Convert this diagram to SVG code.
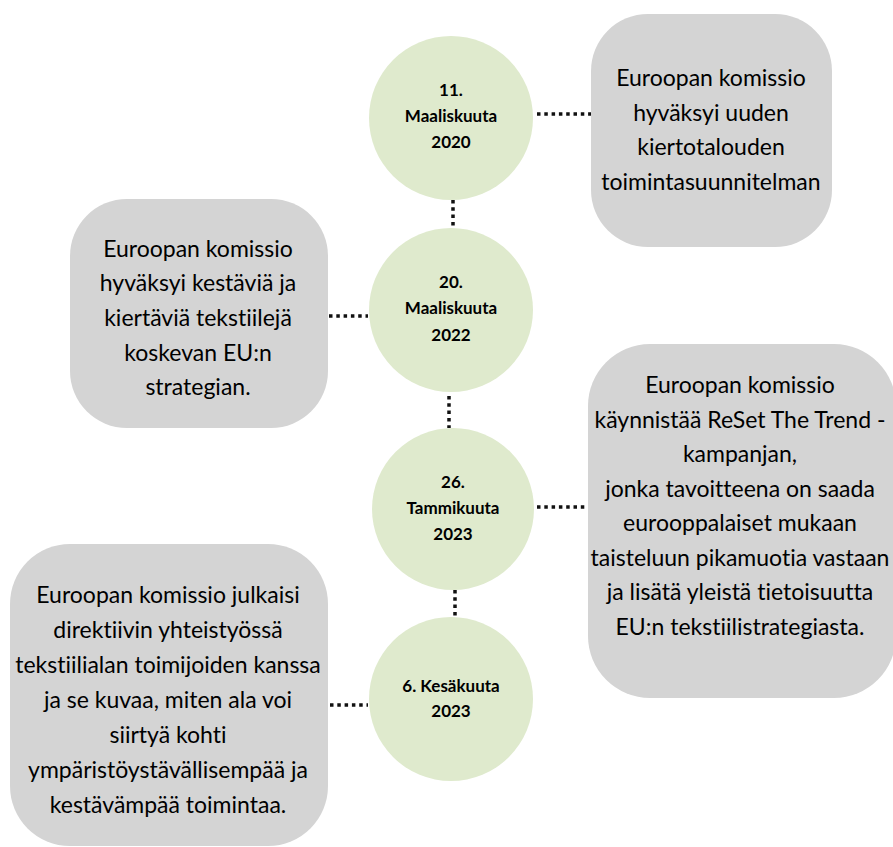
<svg xmlns="http://www.w3.org/2000/svg" width="893" height="847" viewBox="0 0 893 847">
<style>
.box{fill:#d4d4d4;}
.circ{fill:#dfeacd;}
.bt{font-family:Lato,"Liberation Sans",sans-serif;font-size:23px;fill:#000;text-anchor:middle;font-variant-ligatures:none;}
.ct{font-family:Lato,"Liberation Sans",sans-serif;font-size:17px;font-weight:bold;fill:#000;text-anchor:middle;font-variant-ligatures:none;}
.con{stroke:#111;stroke-width:3.5;stroke-dasharray:3.5 3.8;fill:none;}
</style>
<rect width="893" height="847" fill="#fff"/>
<g id="connectors">
<line class="con" x1="537" y1="114" x2="591" y2="114"/>
<line class="con" x1="329" y1="316" x2="368" y2="316"/>
<line class="con" x1="537" y1="507" x2="588" y2="507"/>
<line class="con" x1="330" y1="705" x2="368" y2="705"/>
<line class="con" x1="453" y1="200" x2="453" y2="228"/>
<line class="con" x1="449" y1="396" x2="449" y2="428"/>
<line class="con" x1="455" y1="590" x2="455" y2="617"/>
</g>
<g id="box1">
<rect class="box" x="591" y="14" width="241" height="233" rx="57"/>
<text class="bt" x="711" y="86">Euroopan komissio</text>
<text class="bt" x="711" y="121">hyväksyi uuden</text>
<text class="bt" x="711" y="155">kiertotalouden</text>
<text class="bt" x="711" y="190">toimintasuunnitelman</text>
</g>
<g id="box2">
<rect class="box" x="70" y="199" width="258" height="229" rx="57"/>
<text class="bt" x="198" y="257">Euroopan komissio</text>
<text class="bt" x="198" y="291">hyväksyi kestäviä ja</text>
<text class="bt" x="198" y="326">kiertäviä tekstiilejä</text>
<text class="bt" x="198" y="361">koskevan EU:n</text>
<text class="bt" x="198" y="395">strategian.</text>
</g>
<g id="box3">
<rect class="box" x="588" y="344" width="308" height="354" rx="62"/>
<text class="bt" x="740" y="393">Euroopan komissio</text>
<text class="bt" x="740" y="428">käynnistää ReSet The Trend -</text>
<text class="bt" x="740" y="462">kampanjan,</text>
<text class="bt" x="740" y="497">jonka tavoitteena on saada</text>
<text class="bt" x="740" y="531">eurooppalaiset mukaan</text>
<text class="bt" x="740" y="566">taisteluun pikamuotia vastaan</text>
<text class="bt" x="740" y="600">ja lisätä yleistä tietoisuutta</text>
<text class="bt" x="740" y="635">EU:n tekstiilistrategiasta.</text>
</g>
<g id="box4">
<rect class="box" x="10" y="544" width="318" height="302" rx="60"/>
<text class="bt" x="168" y="603">Euroopan komissio julkaisi</text>
<text class="bt" x="168" y="638">direktiivin yhteistyössä</text>
<text class="bt" x="168" y="673">tekstiilialan toimijoiden kanssa</text>
<text class="bt" x="168" y="708">ja se kuvaa, miten ala voi</text>
<text class="bt" x="168" y="743">siirtyä kohti</text>
<text class="bt" x="168" y="778">ympäristöystävällisempää ja</text>
<text class="bt" x="168" y="813">kestävämpää toimintaa.</text>
</g>
<g id="date1">
<circle class="circ" cx="451" cy="118" r="82"/>
<text class="ct" x="451" y="96">11.</text>
<text class="ct" x="451" y="122">Maaliskuuta</text>
<text class="ct" x="451" y="148">2020</text>
</g>
<g id="date2">
<circle class="circ" cx="451" cy="310" r="82"/>
<text class="ct" x="451" y="288">20.</text>
<text class="ct" x="451" y="314">Maaliskuuta</text>
<text class="ct" x="451" y="341">2022</text>
</g>
<g id="date3">
<circle class="circ" cx="453" cy="509" r="81"/>
<text class="ct" x="453" y="488">26.</text>
<text class="ct" x="453" y="514">Tammikuuta</text>
<text class="ct" x="453" y="540">2023</text>
</g>
<g id="date4">
<circle class="circ" cx="451" cy="699" r="82"/>
<text class="ct" x="451" y="692">6. Kesäkuuta</text>
<text class="ct" x="451" y="717">2023</text>
</g>
</svg>
